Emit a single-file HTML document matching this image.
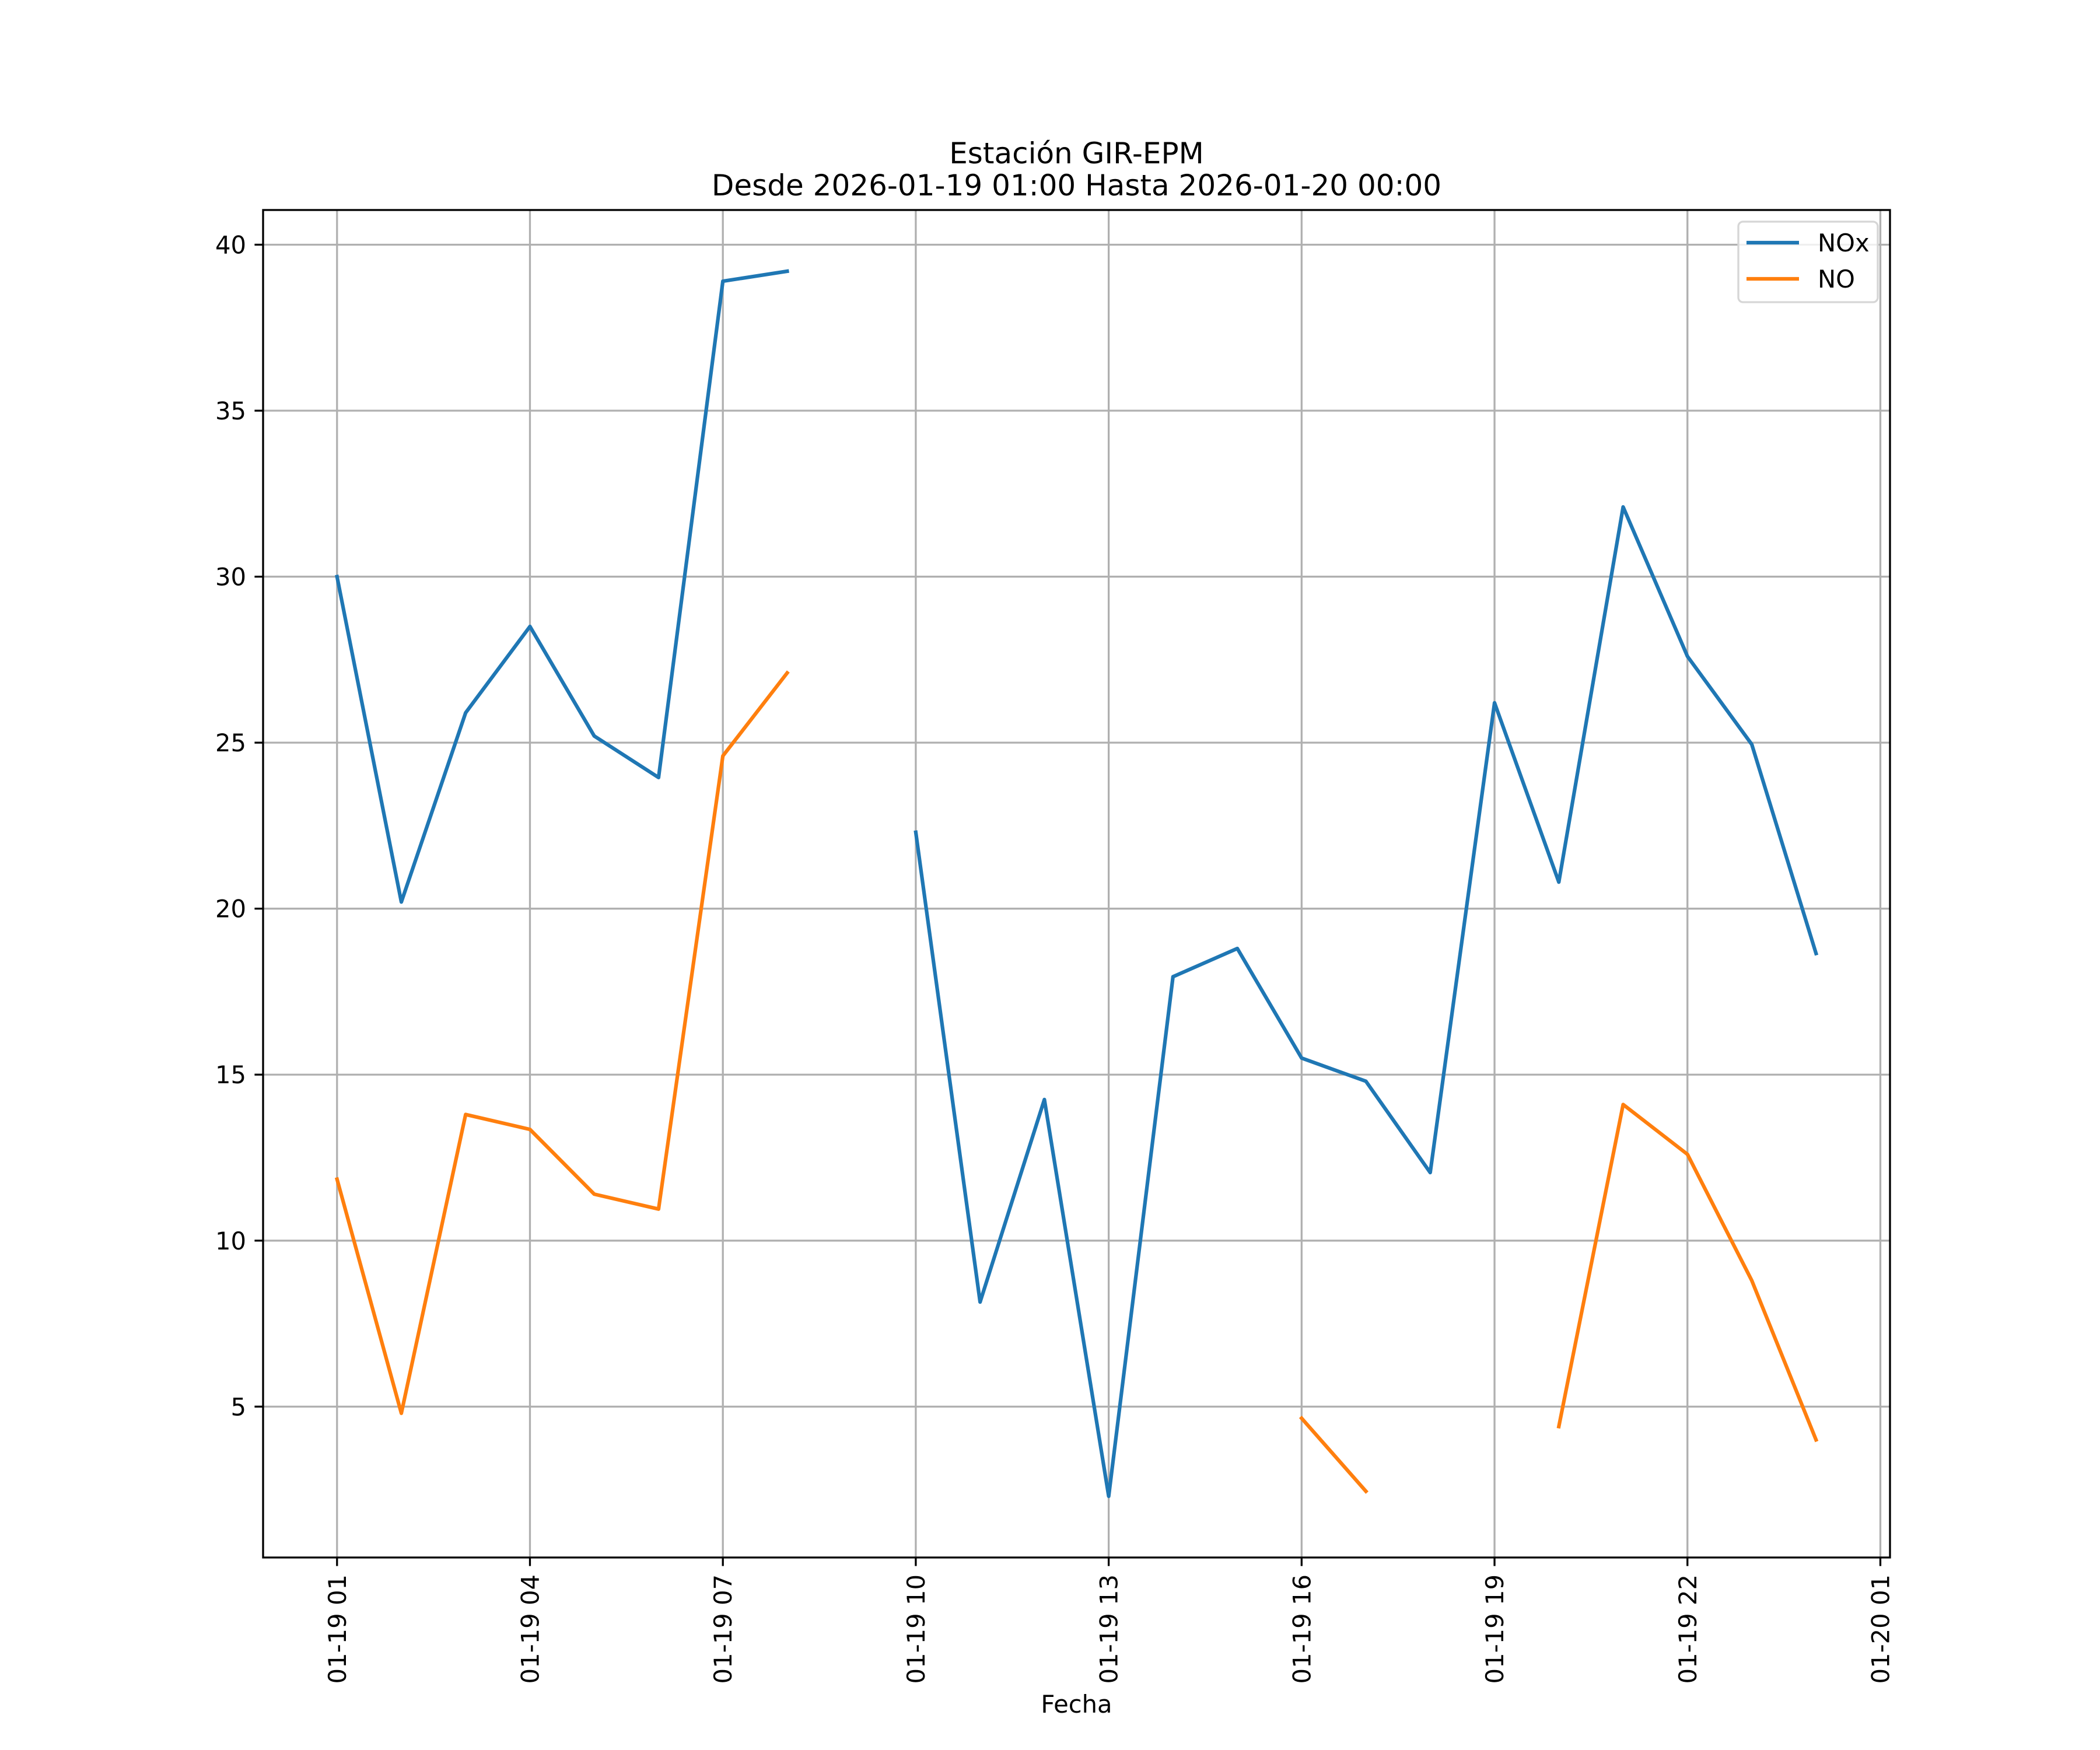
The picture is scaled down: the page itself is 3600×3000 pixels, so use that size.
<!DOCTYPE html>
<html><head><meta charset="utf-8"><style>
html,body{margin:0;padding:0;background:#fff;}
svg{display:block;font-family:"DejaVu Sans","Liberation Sans",sans-serif;}
</style></head><body>
<svg id="chart" width="3600" height="3000" viewBox="0 0 3600 3000" xmlns="http://www.w3.org/2000/svg">
<rect width="3600" height="3000" fill="#fff"/>
<text x="1845.5" y="280" font-size="50" text-anchor="middle">Estación GIR-EPM</text>
<text x="1845.5" y="335" font-size="50" text-anchor="middle">Desde 2026-01-19 01:00 Hasta 2026-01-20 00:00</text>
<g id="grid"></g>
<g id="series"></g>
<rect x="451" y="360" width="2789" height="2310" fill="none" stroke="#000" stroke-width="3.3"/>
<g id="ticks"></g>
<text x="1845.5" y="2936" font-size="41.7" text-anchor="middle">Fecha</text>
<g>
<rect x="2980" y="380" width="239" height="138" rx="8" fill="#fff" fill-opacity="0.8" stroke="#d6d6d6" stroke-width="3.3"/>
<line x1="2994" y1="416" x2="3084" y2="416" stroke="#1f77b4" stroke-width="6.25"/>
<text x="3116" y="431" font-size="41.7">NOx</text>
<line x1="2994" y1="478" x2="3084" y2="478" stroke="#ff7f0e" stroke-width="6.25"/>
<text x="3116" y="493" font-size="41.7">NO</text>
</g>
</svg>
<script>
const hours = [1,2,3,4,5,6,7,8,9,10,11,12,13,14,15,16,17,18,19,20,21,22,23,24];
const noxValues = [30.0,20.2,25.9,28.5,25.2,23.95,38.9,39.2,null,22.3,8.15,14.25,2.3,17.95,18.8,15.5,14.8,12.05,26.2,20.8,32.1,27.6,24.95,18.65];
const noValues = [11.85,4.8,13.8,13.35,11.4,10.95,24.6,27.1,null,null,null,null,null,null,null,4.65,2.45,null,null,4.4,14.1,12.6,8.8,4.0];
const xTickHours = [1,4,7,10,13,16,19,22,25];
const xTickLabels = ["01-19 01","01-19 04","01-19 07","01-19 10","01-19 13","01-19 16","01-19 19","01-19 22","01-20 01"];
const yTicks = [5,10,15,20,25,30,35,40];

const NS="http://www.w3.org/2000/svg";
const L=451,R=3240,T=360,B=2670;
const xMin=-0.15,xMax=25.15,yMin=0.455,yMax=41.045;
function xs(h){return L+(h-xMin)/(xMax-xMin)*(R-L);}
function ys(v){return B-(v-yMin)/(yMax-yMin)*(B-T);}
function mk(tag,attrs,parent){const e=document.createElementNS(NS,tag);for(const k in attrs)e.setAttribute(k,attrs[k]);parent.appendChild(e);return e;}
const grid=document.getElementById('grid'),ticks=document.getElementById('ticks'),series=document.getElementById('series');

xTickHours.forEach((h,i)=>{
  const x=xs(h);
  const g=mk('line',{x1:x,y1:T,x2:x,y2:B,stroke:'#b0b0b0','stroke-width':3.3},grid);
  
  
  const t=mk('line',{x1:x,y1:B,x2:x,y2:B+14.6,stroke:'#000','stroke-width':3.3},ticks);
  
  
  const tx=mk('text',{x:0,y:0,'font-size':41.7,'text-anchor':'end',transform:`translate(${x+15},${B+29}) rotate(-90)`},ticks);
  tx.textContent=xTickLabels[i];
  
  
});
yTicks.forEach(v=>{
  const y=ys(v);
  const g=mk('line',{x1:L,y1:y,x2:R,y2:y,stroke:'#b0b0b0','stroke-width':3.3},grid);
  
  
  const t=mk('line',{x1:L-14.6,y1:y,x2:L,y2:y,stroke:'#000','stroke-width':3.3},ticks);
  
  
  const tx=mk('text',{x:L-29,y:y+15,'font-size':41.7,'text-anchor':'end'},ticks);
  tx.textContent=String(v);
  
  
});
function drawSeries(vals,color,name){
  let seg=[];
  const segs=[];
  vals.forEach((v,i)=>{
    if(v===null){if(seg.length)segs.push(seg);seg=[];}
    else seg.push([xs(hours[i]),ys(v)]);
  });
  if(seg.length)segs.push(seg);
  segs.forEach(s=>{
    if(s.length<2)return;
    const p=mk('polyline',{points:s.map(q=>q.join(',')).join(' '),fill:'none',stroke:color,'stroke-width':6.25,'stroke-linejoin':'round','stroke-linecap':'square'},series);
    
    
  });
}
drawSeries(noxValues,'#1f77b4','nox-line');
drawSeries(noValues,'#ff7f0e','no-line');
</script>
</body></html>
